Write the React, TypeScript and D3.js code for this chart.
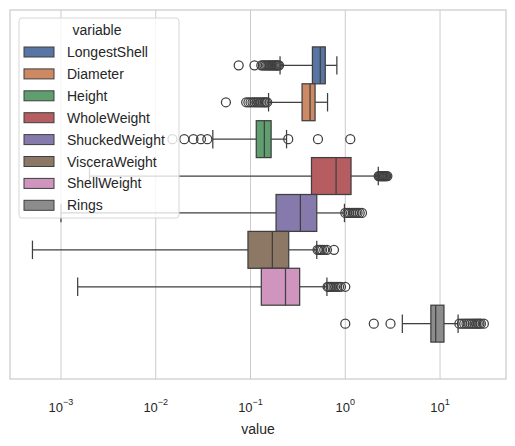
import React from "react";
import * as d3 from "d3";

const variables = ["LongestShell","Diameter","Height","WholeWeight","ShuckedWeight","VisceraWeight","ShellWeight","Rings"];
const colors = ["#4c72b0","#dd8452","#55a868","#c44e52","#8172b3","#937860","#da8bc3","#8c8c8c"];
const lowWhisker = [0.205,0.155,0.04,0.002,0.001,0.0005,0.0015,4];
const q1 = [0.45,0.35,0.115,0.44,0.186,0.094,0.13,8];
const median = [0.545,0.425,0.14,0.8,0.336,0.17,0.234,9];
const q3 = [0.615,0.48,0.165,1.15,0.5,0.253,0.33,11];
const highWhisker = [0.815,0.65,0.24,2.23,0.98,0.5,0.64,15.5];
const outliers: number[][] = [
  [0.075,0.11,0.13,0.135,0.14,0.145,0.15,0.155,0.16,0.165,0.17,0.175,0.18,0.185,0.19,0.195,0.2],
  [0.055,0.09,0.095,0.1,0.105,0.11,0.115,0.12,0.125,0.13,0.135,0.14,0.145,0.15],
  [0.015,0.02,0.025,0.03,0.035,0.25,0.515,1.13],
  [2.25,2.3,2.35,2.4,2.45,2.5,2.55,2.6,2.65,2.7,2.78],
  [1.0,1.05,1.1,1.15,1.2,1.25,1.3,1.35,1.42,1.5],
  [0.51,0.53,0.55,0.57,0.6,0.64,0.76],
  [0.65,0.67,0.7,0.72,0.75,0.78,0.82,0.86,0.9,1.0],
  [1,2,3,16,17,18,19,20,21,22,23,24,25,26,27,29],
];
const tickExps = [-3,-2,-1,0,1];

const W = 515, H = 446;
const L = 10, R = 506, T = 10, B = 379;

export default function App() {
  const x = d3.scaleLog().domain([Math.pow(10,-3.538), Math.pow(10,1.696)]).range([L, R]);
  const band = d3.scaleBand().domain(["v"]).range([T, B]).paddingInner(0).paddingOuter(0);
  const bw = band.bandwidth() * 0.8;
  const y = d3.scaleBand().domain(variables).range([band("v")! + band.bandwidth()*0.1, band("v")! + band.bandwidth()*0.1 + bw]);
  const sh = y.bandwidth();
  const line = "#3f3f3f";
  const fill = (c: string) => { const h = d3.hsl(c); h.s *= 0.75; return h.formatHex(); };
  return (
    <svg width={W} height={H} style={{position:"absolute",left:0,top:0,fontFamily:"Liberation Sans, Arial, sans-serif"}}>
      <rect x={0} y={0} width={W} height={H} fill="white"/>
      {tickExps.map(e => (
        <line key={e} x1={x(Math.pow(10,e))} x2={x(Math.pow(10,e))} y1={T} y2={B} stroke="#cccccc" strokeWidth={1}/>
      ))}
      {variables.map((v,i) => {
        const cy = y(v)! + sh/2;
        const h = sh;
        return (
          <g key={v}>
            <line x1={x(lowWhisker[i])} x2={x(q1[i])} y1={cy} y2={cy} stroke={line} strokeWidth={1.25}/>
            <line x1={x(q3[i])} x2={x(highWhisker[i])} y1={cy} y2={cy} stroke={line} strokeWidth={1.25}/>
            <line x1={x(lowWhisker[i])} x2={x(lowWhisker[i])} y1={cy-h/4} y2={cy+h/4} stroke={line} strokeWidth={1.25}/>
            <line x1={x(highWhisker[i])} x2={x(highWhisker[i])} y1={cy-h/4} y2={cy+h/4} stroke={line} strokeWidth={1.25}/>
            <rect x={x(q1[i])} y={cy-h/2} width={x(q3[i])-x(q1[i])} height={h} fill={fill(colors[i])} stroke={line} strokeWidth={1.25}/>
            <line x1={x(median[i])} x2={x(median[i])} y1={cy-h/2} y2={cy+h/2} stroke={line} strokeWidth={1.25}/>
            {outliers[i].map((o,j) => (
              <circle key={j} cx={x(o)} cy={cy} r={4.5} fill="none" stroke={line} strokeWidth={1.25}/>
            ))}
          </g>
        );
      })}
      <rect x={L} y={T} width={R-L} height={B-T} fill="none" stroke="#cccccc" strokeWidth={1.25}/>
      {tickExps.map(e => (
        <text key={e} x={x(Math.pow(10,e))} y={412} textAnchor="middle" fontSize={13} fill="#262626">
          10<tspan dy={-7} fontSize={9}>{e < 0 ? "\u2212" + Math.abs(e) : String(e)}</tspan>
        </text>
      ))}
      <text x={(L+R)/2} y={434} textAnchor="middle" fontSize={14} fill="#262626">value</text>
      <g>
        <rect x={19} y={18} width={160} height={200} rx={3} fill="white" fillOpacity={0.8} stroke="#d6d6d6"/>
        <text x={97} y={35} textAnchor="middle" fontSize={14} fill="#262626">variable</text>
        {variables.map((v,i) => (
          <g key={v} transform={`translate(0,${52 + i*21.9})`}>
            <rect x={24} y={-5} width={30} height={10} fill={fill(colors[i])} stroke={line} strokeWidth={1}/>
            <text x={67} y={5} fontSize={14} fill="#262626">{v}</text>
          </g>
        ))}
      </g>
    </svg>
  );
}
